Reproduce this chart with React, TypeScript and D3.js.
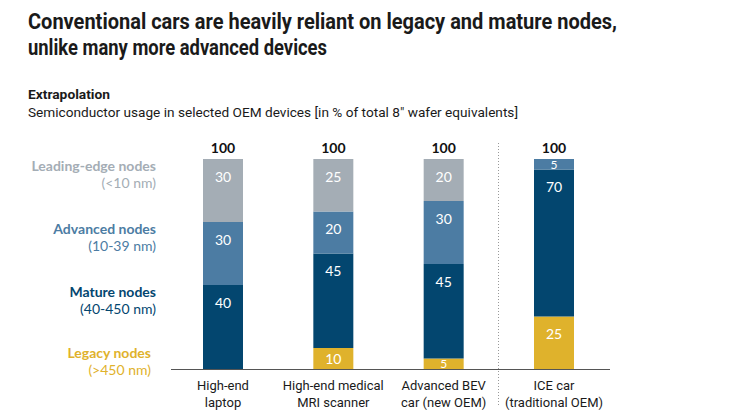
import React from "react";
import * as d3 from "d3";

const categories = ["laptop", "mri", "bev", "ice"];
const categoryLines = [
  ["High-end", "laptop"],
  ["High-end medical", "MRI scanner"],
  ["Advanced BEV", "car (new OEM)"],
  ["ICE car", "(traditional OEM)"],
];
const legacy = [0, 10, 5, 25];
const mature = [40, 45, 45, 70];
const advanced = [30, 20, 30, 5];
const leading = [30, 25, 20, 0];
const totals = [100, 100, 100, 100];

const seriesKeys = ["legacy", "mature", "advanced", "leading"];
const seriesColors: Record<string, string> = {
  legacy: "#dfb22c",
  mature: "#03466f",
  advanced: "#4c7ca3",
  leading: "#a4adb5",
};
const legendItems = [
  { key: "leading", name: "Leading-edge nodes", range: "(<10 nm)" },
  { key: "advanced", name: "Advanced nodes", range: "(10-39 nm)" },
  { key: "mature", name: "Mature nodes", range: "(40-450 nm)" },
  { key: "legacy", name: "Legacy nodes", range: "(>450 nm)" },
];

export default function App() {
  const W = 746;
  const H = 419;
  const rows = categories.map((c, i) => ({
    cat: c,
    legacy: legacy[i],
    mature: mature[i],
    advanced: advanced[i],
    leading: leading[i],
  }));
  const stack = d3.stack<any>().keys(seriesKeys);
  const layers = stack(rows);

  const x = d3.scalePoint<string>().domain(categories).range([223, 554]);
  const y = d3.scaleLinear().domain([0, 100]).range([369, 159]);
  const bw = 40;

  const legendY: Record<string, number> = {
    leading: 171,
    advanced: 234,
    mature: 297,
    legacy: 358,
  };
  const legendX: Record<string, number> = {
    leading: 156,
    advanced: 156,
    mature: 156,
    legacy: 151,
  };

  return (
    <svg
      width={W}
      height={H}
      style={{ position: "absolute", left: 0, top: 0, background: "#fff" }}
    >
      <text
        x={28}
        y={29}
        fontFamily="Roboto, sans-serif"
        fontWeight={700}
        fontSize={21.5}
        fill="#1a1a1a"
        textLength={589}
        lengthAdjust="spacingAndGlyphs"
      >
        Conventional cars are heavily reliant on legacy and mature nodes,
      </text>
      <text
        x={28}
        y={55}
        fontFamily="Roboto, sans-serif"
        fontWeight={700}
        fontSize={21.5}
        fill="#1a1a1a"
        textLength={299}
        lengthAdjust="spacingAndGlyphs"
      >
        unlike many more advanced devices
      </text>
      <text
        x={28}
        y={99}
        fontFamily="Roboto, sans-serif"
        fontWeight={700}
        fontSize={13.5}
        fill="#1a1a1a"
        textLength={82}
        lengthAdjust="spacingAndGlyphs"
      >
        Extrapolation
      </text>
      <text
        x={28}
        y={117}
        fontFamily="Roboto, sans-serif"
        fontSize={13.5}
        fill="#1a1a1a"
        textLength={490}
        lengthAdjust="spacingAndGlyphs"
      >
        Semiconductor usage in selected OEM devices [in % of total 8" wafer equivalents]
      </text>

      {legendItems.map((d) => (
        <g key={d.key} fill={seriesColors[d.key]} fontFamily="Lato, sans-serif" fontSize={14} textAnchor="end">
          <text x={legendX[d.key]} y={legendY[d.key]} fontWeight={700}>
            {d.name}
          </text>
          <text x={legendX[d.key]} y={legendY[d.key] + 16.5}>
            {d.range}
          </text>
        </g>
      ))}

      {layers.map((layer) => (
        <g key={layer.key}>
          {layer.map((seg, i) => {
            const v = seg[1] - seg[0];
            if (v <= 0) return null;
            const x0 = (x(categories[i]) as number) - bw / 2;
            const yTop = y(seg[1]);
            const yBot = y(seg[0]);
            const h = yBot - yTop;
            const small = h < 35;
            const ly = small ? (yTop + yBot) / 2 + 0.5 : yTop + 18;
            return (
              <g key={i}>
                <rect x={x0} y={yTop} width={bw} height={h} fill={seriesColors[layer.key]} />
                <text
                  x={x0 + bw / 2}
                  y={ly}
                  dy="0.35em"
                  textAnchor="middle"
                  fontFamily="Lato, sans-serif"
                  fontSize={h < 15 ? 12 : 14}
                  fill="#fff"
                >
                  {v}
                </text>
              </g>
            );
          })}
        </g>
      ))}

      {categories.map((c, i) => (
        <text
          key={c}
          x={x(c) as number}
          y={y(totals[i]) - 6}
          textAnchor="middle"
          fontFamily="Lato, sans-serif"
          fontWeight={700}
          fontSize={14}
          fill="#111"
        >
          {totals[i]}
        </text>
      ))}

      <line x1={171} x2={610} y1={369.5} y2={369.5} stroke="#555" strokeWidth={1.2} />
      <line x1={498.5} x2={498.5} y1={143} y2={407} stroke="#999" strokeWidth={1} strokeDasharray="1,2" />

      {categories.map((c, i) => (
        <text
          key={c}
          x={x(c) as number}
          textAnchor="middle"
          fontFamily="Roboto, sans-serif"
          fontSize={13}
          fill="#1a1a1a"
        >
          <tspan x={x(c) as number} y={390}>
            {categoryLines[i][0]}
          </tspan>
          <tspan x={x(c) as number} y={407}>
            {categoryLines[i][1]}
          </tspan>
        </text>
      ))}
    </svg>
  );
}
